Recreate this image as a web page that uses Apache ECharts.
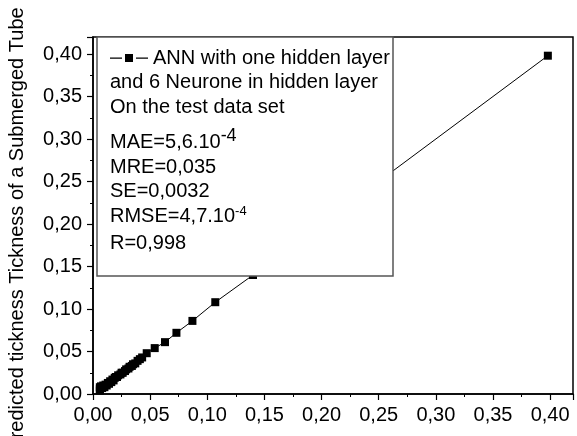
<!DOCTYPE html>
<html>
<head>
<meta charset="utf-8">
<script src="https://cdn.jsdelivr.net/npm/echarts@6/dist/echarts.min.js"></script>
<style>
  html, body { margin: 0; padding: 0; background: #fff; }
  #chart { width: 577px; height: 436px; }
</style>
</head>
<body>
<div id="chart"></div>
<script>
// measured thickness (x) vs ANN predicted thickness (y)
const measured = [
  0.006, 0.006, 0.006, 0.007, 0.008, 0.009, 0.010, 0.011, 0.012, 0.013,
  0.014, 0.015, 0.016, 0.017, 0.018, 0.019, 0.020, 0.021, 0.022, 0.024,
  0.025, 0.026, 0.028, 0.029, 0.031, 0.032, 0.034, 0.035, 0.037, 0.039,
  0.041, 0.043, 0.047, 0.054, 0.063, 0.073, 0.087, 0.107, 0.140, 0.398
]
const predicted = [
  0.004, 0.006, 0.008, 0.009, 0.007, 0.010, 0.008, 0.011, 0.010, 0.013,
  0.012, 0.015, 0.014, 0.017, 0.016, 0.019, 0.020, 0.020, 0.022, 0.023,
  0.025, 0.025, 0.027, 0.029, 0.030, 0.032, 0.033, 0.035, 0.036, 0.039,
  0.041, 0.043, 0.048, 0.054, 0.061, 0.072, 0.086, 0.108, 0.140, 0.398
]
const seriesName = 'ANN with one hidden layer'
const legendLines = ['and 6 Neurone in hidden layer', 'On the test data set']
const statLines = [
  ['MAE=5,6.10', '-4'],
  ['MRE=0,035', ''],
  ['SE=0,0032', ''],
  ['RMSE=4,7.10', '-4'],
  ['R=0,998', '']
]

const font = 'Liberation Sans, Arial, sans-serif'
const fmt = (v) => v.toFixed(2).replace('.', ',')

const chart = echarts.init(document.getElementById('chart'), null, { renderer: 'canvas' })

const axisCommon = {
  type: 'value',
  min: 0,
  max: 0.42,
  interval: 0.05,
  axisLine: { show: true, lineStyle: { color: '#000', width: 1.5 } },
  axisTick: { show: true, inside: false, length: 6, lineStyle: { color: '#000', width: 1.2 } },
  minorTick: { show: true, splitNumber: 2, length: 3, lineStyle: { color: '#000', width: 1 } },
  splitLine: { show: false },
  axisLabel: {
    color: '#000', fontFamily: font, fontSize: 20, margin: 11,
    showMaxLabel: false, formatter: fmt
  }
}

// vertical centres of the text lines inside the legend box
const lineY = [58, 82, 107]
const statY = [142, 167, 191, 216, 243]

const graphics = [
  {
    type: 'rect', z: 50,
    shape: { x: 97, y: 37, width: 296, height: 239 },
    style: { fill: '#fff', stroke: '#555', lineWidth: 1.5 }
  }
]
legendLines.forEach((t, i) => {
  graphics.push({
    type: 'text', z: 60, x: 110, y: lineY[i + 1],
    style: { text: t, font: '20px ' + font, fill: '#000', textVerticalAlign: 'middle' }
  })
})
statLines.forEach((s, i) => {
  graphics.push({
    type: 'text', z: 60, x: 110, y: statY[i],
    style: {
      text: s[1] ? '{b|' + s[0] + '}{s|' + s[1] + '}' : '{b|' + s[0] + '}',
      fill: '#000',
      textVerticalAlign: 'middle',
      rich: {
        b: { fontSize: 20, fontFamily: font, color: '#000' },
        s: { fontSize: i === 0 ? 18 : 13, fontFamily: font, color: '#000', verticalAlign: 'top', padding: [0, 0, i === 0 ? 12 : 9, 0] }
      }
    }
  })
})

const option = {
  backgroundColor: '#fff',
  animation: false,
  grid: {
    left: 93, right: 4, top: 37, bottom: 42,
    outerBoundsMode: 'none',
    show: true, borderColor: '#000', borderWidth: 1.5, backgroundColor: 'transparent'
  },
  xAxis: Object.assign({}, axisCommon),
  yAxis: Object.assign({}, axisCommon, {
    name: 'Predicted tickness Tickness of a Submerged Tube',
    nameLocation: 'middle',
    nameGap: 66,
    nameTextStyle: { color: '#000', fontFamily: font, fontSize: 20, padding: [0, 28, 0, 0] }
  }),
  legend: {
    show: true, z: 70,
    left: 110, top: 48, padding: 0,
    itemWidth: 38, itemHeight: 8,
    data: [{ name: seriesName, icon: 'path://M0,3.5h12v1.3h-12z M15,0h8v8h-8z M26,3.5h12v1.3h-12z' }],
    textStyle: { color: '#000', fontFamily: font, fontSize: 20 }
  },
  graphic: graphics,
  series: [
    {
      name: seriesName,
      type: 'line',
      data: measured.map((x, i) => [x, predicted[i]]),
      symbol: 'rect',
      symbolSize: 8,
      itemStyle: { color: '#000' },
      lineStyle: { color: '#000', width: 1 }
    }
  ]
}

chart.setOption(option)
</script>
</body>
</html>
